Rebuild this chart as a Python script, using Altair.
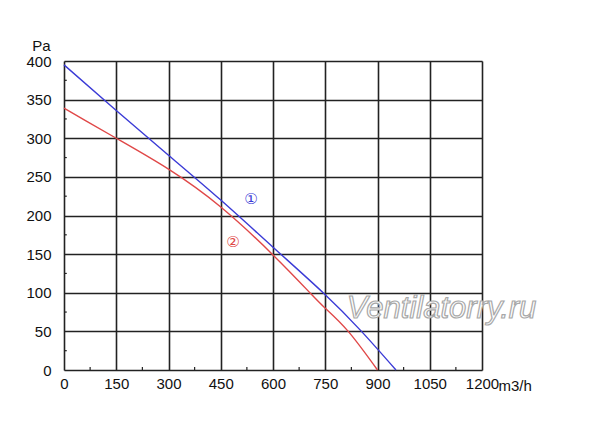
import altair as alt
import pandas as pd

# Curve 1 (blue)
q1 = [0, 150, 300, 450, 600, 744, 854, 953]
p1 = [395, 336, 278, 220, 159, 100, 50, 0]
# Curve 2 (red)
q2 = [0, 150, 300, 450, 600, 706, 750, 816, 900]
p2 = [339, 300, 260, 211, 149, 100, 80, 50, 0]

x_ticks = [0, 150, 300, 450, 600, 750, 900, 1050, 1200]
y_ticks = [0, 50, 100, 150, 200, 250, 300, 350, 400]
x_minor = [75, 225, 375, 525, 675, 825, 975, 1125]
y_minor = [25, 75, 125, 175, 225, 275, 325, 375]

curve_labels = ["①", "②"]
label_q = [537, 485]
label_p = [222, 166]
label_colors = ["#3b3bd6", "#e04848"]

df = pd.DataFrame(
    {"q": q1 + q2, "p": p1 + p2, "curve": ["1"] * len(q1) + ["2"] * len(q2)}
)
lab = pd.DataFrame({"q": label_q, "p": label_p, "t": curve_labels, "c": label_colors})
xm = pd.DataFrame({"q": x_minor, "p": [0] * len(x_minor), "p1": [4] * len(x_minor)})
ym = pd.DataFrame({"p": y_minor, "q": [0] * len(y_minor), "q1": [8] * len(y_minor)})
wm = pd.DataFrame({"q": [812], "p": [67], "t": ["Ventilatorry.ru"]})

FONT = "Liberation Sans"

xscale = alt.Scale(domain=[0, 1200], nice=False)
yscale = alt.Scale(domain=[0, 400], nice=False)

xaxis = alt.Axis(
    values=x_ticks, format="d", grid=True, gridColor="#222222", gridWidth=1.6,
    ticks=False, domain=False, labelFontSize=15, labelFont=FONT, labelColor="#111111",
    labelPadding=6, labelOverlap=False, title="m3/h", titleFont=FONT, titleFontSize=15,
    titleFontWeight="normal", titleColor="#111111",
    titleAlign="left", titleX=434, titleY=20, titleBaseline="alphabetic",
    labelFlush=False,
)
yaxis = alt.Axis(
    values=y_ticks, format="d", grid=True, gridColor="#222222", gridWidth=1.6,
    ticks=False, domain=False, labelFontSize=15, labelFont=FONT, labelColor="#111111",
    labelPadding=13, labelOverlap=False, labelFlush=False, title="Pa", titleFont=FONT,
    titleFontSize=15, titleFontWeight="normal", titleColor="#111111", titleAngle=0,
    titleAlign="center", titleX=-23, titleY=-11, titleBaseline="alphabetic",
)


def X():
    return alt.X("q:Q", scale=xscale, axis=xaxis)


def Y():
    return alt.Y("p:Q", scale=yscale, axis=yaxis)


lines = alt.Chart(df).mark_line(strokeWidth=1.4, interpolate="natural").encode(
    x=X(), y=Y(),
    color=alt.Color("curve:N", scale=alt.Scale(domain=["1", "2"], range=["#3b3bd6", "#e04848"]), legend=None),
)

watermark = alt.Chart(wm).mark_text(
    font=FONT, fontSize=31, fontStyle="italic", fill="#ffffff", stroke="#a8a8a8",
    strokeWidth=1.2, align="left", baseline="alphabetic",
).encode(x=X(), y=Y(), text="t:N")

labels = alt.Chart(lab).mark_text(font="DejaVu Sans", fontSize=15).encode(
    x=X(), y=Y(), text="t:N", color=alt.Color("c:N", scale=None)
)

xminor = alt.Chart(xm).mark_rule(color="#222222", strokeWidth=1.2).encode(
    x=X(), y=Y(), y2="p1:Q"
)
yminor = alt.Chart(ym).mark_rule(color="#222222", strokeWidth=1.2).encode(
    x=X(), y=Y(), x2="q1:Q"
)

chart = alt.layer(lines, watermark, labels, xminor, yminor).properties(
    width=418, height=309,
    autosize=alt.AutoSizeParams(type="none"),
    padding={"left": 56, "top": 53, "right": 110, "bottom": 44},
).configure_view(stroke="#222222", strokeWidth=1.6).configure(background="white")

chart.save("out.html", embed_options={"renderer": "svg", "actions": False})
